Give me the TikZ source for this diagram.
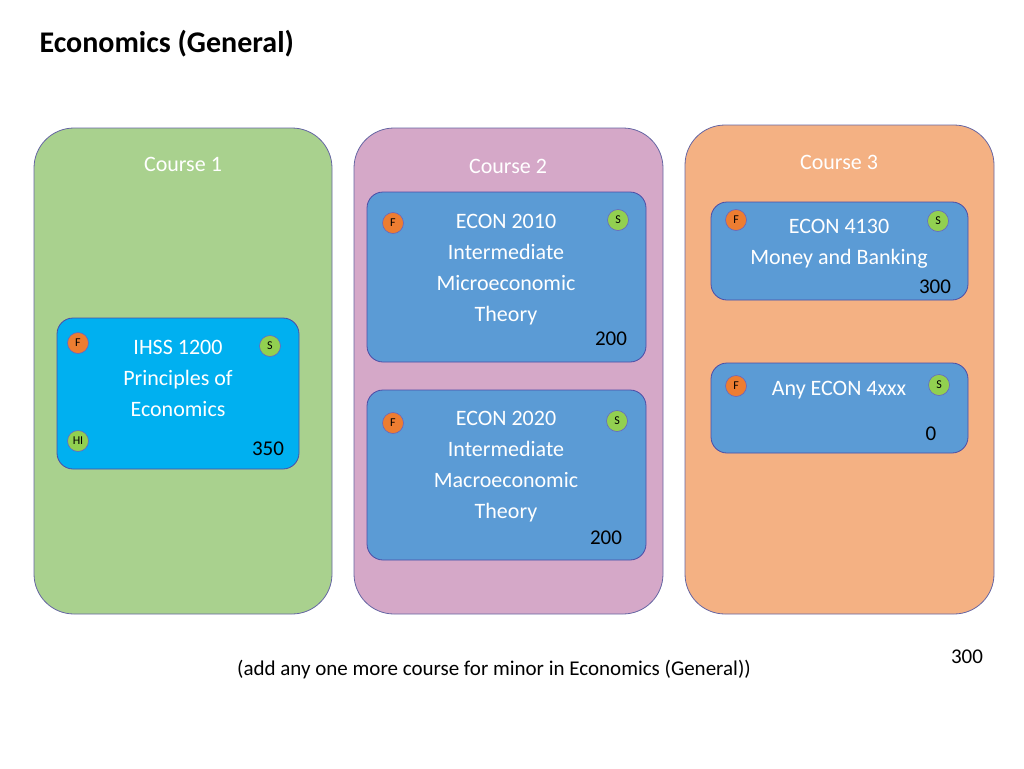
\documentclass[tikz,border=0pt]{standalone}
\usepackage{fontspec}
\setmainfont{Carlito}
\begin{document}
\begin{tikzpicture}[x=1pt,y=-1pt,
 col/.style={draw=black!60!blue!60,line width=0.8pt,rounded corners=40pt},
 box/.style={draw=black!50!blue!70,line width=0.8pt,rounded corners=16pt},
 txt/.style={font=\fontsize{22}{31}\selectfont,align=center,text=white},
 num/.style={font=\fontsize{21}{24}\selectfont},
 dot/.style={circle,draw=black!40!blue!60,line width=0.6pt,minimum size=21pt,inner sep=0pt,font=\fontsize{12}{12}\selectfont},
 F/.style={dot,fill=orange1},
 S/.style={dot,fill=green1}]
\definecolor{orange1}{RGB}{237,125,49}
\definecolor{green1}{RGB}{146,208,80}
\definecolor{c1}{RGB}{169,209,142}
\definecolor{c2}{RGB}{213,168,200}
\definecolor{c3}{RGB}{244,177,131}
\definecolor{bl}{RGB}{91,155,213}
\definecolor{cy}{RGB}{0,176,240}
\useasboundingbox (0,0) rectangle (1024,768);
\node[anchor=west,font=\fontsize{30}{30}\selectfont\bfseries] (title) at (36,44) {Economics (General)};
\draw[col,fill=c1] (34,128) rectangle (332,614);
\draw[col,fill=c2] (354,128) rectangle (663,614);
\draw[col,fill=c3] (685,125) rectangle (994,614);
\node[txt] (h1) at (183,164) {Course 1};
\node[txt] (h2) at (508,166) {Course 2};
\node[txt] (h3) at (839,162) {Course 3};
\draw[box,fill=cy] (57,318) rectangle (299,469);
\node[txt] (t1) at (178,378) {IHSS 1200\\Principles of\\Economics};
\node[num] (n1) at (268,449) {350};
\node[F] (f1) at (78,343) {F}; \node[S] (s1) at (270,346) {S};
\node[S] (hi) at (78,441) {HI};
\draw[box,fill=bl] (367,192) rectangle (646,362);
\node[txt] (t2) at (506,270) {ECON 2010\\Intermediate\\Microeconomic\\Theory};
\node[num] (n2) at (611,339) {200};
\node[F] (f2) at (393,223) {F}; \node[S] (s2) at (618,220) {S};
\draw[box,fill=bl] (367,390) rectangle (646,560);
\node[txt] (t3) at (506,467) {ECON 2020\\Intermediate\\Macroeconomic\\Theory};
\node[num] (n3) at (606,538) {200};
\node[F] (f3) at (393,423) {F}; \node[S] (s3) at (617,421) {S};
\draw[box,fill=bl] (711,202) rectangle (968,300);
\node[txt] (t4) at (839,244) {ECON 4130\\Money and Banking};
\node[num] (n4) at (935,287) {300};
\node[F] (f4) at (736,220) {F}; \node[S] (s4) at (938,221) {S};
\draw[box,fill=bl] (711,363) rectangle (968,453);
\node[txt] (t5) at (839,390) {Any ECON 4xxx};
\node[num] (n5) at (931,434) {0};
\node[F] (f5) at (736,386) {F}; \node[S] (s5) at (939,385) {S};
\node[num] (foot) at (494,670) {(add any one more course for minor in Economics (General))};
\node[num] (tot) at (967,657) {300};
\end{tikzpicture}
\end{document}
